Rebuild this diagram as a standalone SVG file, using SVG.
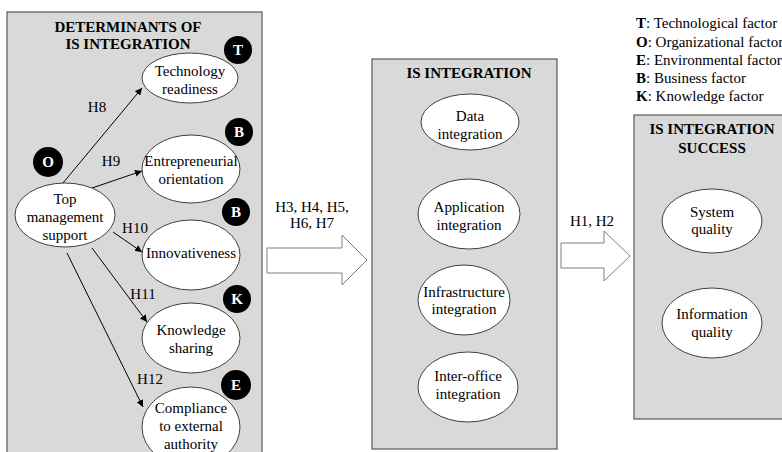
<svg xmlns="http://www.w3.org/2000/svg" width="782" height="452" viewBox="0 0 782 452" font-family="'Liberation Serif', 'DejaVu Serif', serif">
<defs>
<style>
text{font-family:'Liberation Serif','DejaVu Serif',serif;font-size:15px;fill:#000}
.c{text-anchor:middle}
.b{font-weight:bold}
.panel{fill:#d9d9d9;stroke:#595959;stroke-width:1.2}
.ell{fill:#fff;stroke:#404040;stroke-width:1}
.badge{fill:#000}
.bt{fill:#fff;font-weight:bold;text-anchor:middle;font-size:15px}
.edge{stroke:#000;stroke-width:1;fill:none;marker-end:url(#ah)}
.big{fill:#fff;stroke:#808080;stroke-width:1}
</style>
<marker id="ah" viewBox="0 0 10 10" refX="10" refY="5" markerWidth="7" markerHeight="7" orient="auto" markerUnits="userSpaceOnUse">
<path d="M0,0 L10,5 L0,10 z" fill="#000"/>
</marker>
</defs>

<g id="panel-determinants">
<rect class="panel" x="7" y="12" width="255" height="450"/>
<text class="c b" x="128" y="32">DETERMINANTS  OF</text>
<text class="c b" x="128" y="49">IS INTEGRATION</text>
</g>
<g id="panel-integration">
<rect class="panel" x="372" y="59" width="185" height="390"/>
<text class="c b" x="469" y="78">IS INTEGRATION</text>
</g>
<g id="panel-success">
<rect class="panel" x="634" y="115" width="160" height="304"/>
<text class="c b" x="712" y="134">IS INTEGRATION</text>
<text class="c b" x="712" y="153">SUCCESS</text>
</g>

<g id="legend">
<text x="636" y="28"><tspan class="b">T</tspan>: Technological factor</text>
<text x="636" y="46.5"><tspan class="b">O</tspan>: Organizational factor</text>
<text x="636" y="65"><tspan class="b">E</tspan>: Environmental factor</text>
<text x="636" y="83"><tspan class="b">B</tspan>: Business factor</text>
<text x="636" y="101"><tspan class="b">K</tspan>: Knowledge factor</text>
</g>

<g id="connectors">
<line class="edge" x1="63" y1="183" x2="142" y2="88"/>
<line class="edge" x1="92" y1="188" x2="142" y2="171"/>
<line class="edge" x1="113" y1="232" x2="142" y2="252"/>
<line class="edge" x1="92" y1="248" x2="147" y2="322"/>
<line class="edge" x1="67" y1="253" x2="143" y2="407"/>
<text class="c" x="97" y="112">H8</text>
<text class="c" x="111" y="166">H9</text>
<text class="c" x="135" y="233">H10</text>
<text class="c" x="143" y="299">H11</text>
<text class="c" x="150" y="384">H12</text>
<g id="arrow-h3-h7">
<path class="big" d="M267,248 L342,248 L342,235 L367,260 L342,285 L342,273 L267,273 z"/>
<text class="c" x="312" y="212">H3, H4, H5,</text>
<text class="c" x="312" y="228">H6, H7</text>
</g>
<g id="arrow-h1-h2">
<path class="big" d="M561,243 L604,243 L604,231 L630,256 L604,281 L604,268 L561,268 z"/>
<text class="c" x="592" y="226">H1, H2</text>
</g>
</g>

<g id="node-top-management">
<ellipse class="ell" cx="65" cy="215" rx="50" ry="32"/>
<text class="c" x="65" y="204">Top</text>
<text class="c" x="65" y="222">management</text>
<text class="c" x="65" y="240">support</text>
</g>
<g id="badge-O"><circle class="badge" cx="48" cy="162" r="15"/><text class="bt" x="48" y="167">O</text></g>

<g id="node-technology-readiness">
<ellipse class="ell" cx="190" cy="78" rx="48" ry="25"/>
<text class="c" x="190" y="76">Technology</text>
<text class="c" x="190" y="94">readiness</text>
</g>
<g id="badge-T"><circle class="badge" cx="238" cy="50" r="14"/><text class="bt" x="238" y="55">T</text></g>

<g id="node-entrepreneurial">
<ellipse class="ell" cx="191" cy="169" rx="49" ry="34"/>
<text class="c" x="191" y="166">Entrepreneurial</text>
<text class="c" x="191" y="184">orientation</text>
</g>
<g id="badge-B1"><circle class="badge" cx="239" cy="132" r="14"/><text class="bt" x="239" y="137">B</text></g>

<g id="node-innovativeness">
<ellipse class="ell" cx="191" cy="255" rx="49" ry="35"/>
<text class="c" x="191" y="258">Innovativeness</text>
</g>
<g id="badge-B2"><circle class="badge" cx="236" cy="212" r="14"/><text class="bt" x="236" y="217">B</text></g>

<g id="node-knowledge-sharing">
<ellipse class="ell" cx="191" cy="338" rx="49" ry="35"/>
<text class="c" x="191" y="335">Knowledge</text>
<text class="c" x="191" y="353">sharing</text>
</g>
<g id="badge-K"><circle class="badge" cx="237" cy="299" r="14"/><text class="bt" x="237" y="304">K</text></g>

<g id="node-compliance">
<ellipse class="ell" cx="191" cy="427" rx="49" ry="40"/>
<text class="c" x="191" y="413">Compliance</text>
<text class="c" x="191" y="431">to external</text>
<text class="c" x="191" y="449">authority</text>
</g>
<g id="badge-E"><circle class="badge" cx="236" cy="385" r="15"/><text class="bt" x="236" y="390">E</text></g>

<g id="node-data-integration">
<ellipse class="ell" cx="470" cy="122" rx="49" ry="28"/>
<text class="c" x="470" y="121">Data</text>
<text class="c" x="470" y="139">integration</text>
</g>
<g id="node-application-integration">
<ellipse class="ell" cx="469" cy="214" rx="51" ry="35"/>
<text class="c" x="469" y="212">Application</text>
<text class="c" x="469" y="230">integration</text>
</g>
<g id="node-infrastructure-integration">
<ellipse class="ell" cx="464" cy="300" rx="46" ry="35"/>
<text class="c" x="464" y="297">Infrastructure</text>
<text class="c" x="464" y="314">integration</text>
</g>
<g id="node-interoffice-integration">
<ellipse class="ell" cx="468" cy="387" rx="50" ry="35"/>
<text class="c" x="468" y="381">Inter-office</text>
<text class="c" x="468" y="399">integration</text>
</g>

<g id="node-system-quality">
<ellipse class="ell" cx="712" cy="221" rx="50" ry="32"/>
<text class="c" x="712" y="217">System</text>
<text class="c" x="712" y="234">quality</text>
</g>
<g id="node-information-quality">
<ellipse class="ell" cx="712" cy="323" rx="50" ry="35"/>
<text class="c" x="712" y="319">Information</text>
<text class="c" x="712" y="337">quality</text>
</g>
</svg>
